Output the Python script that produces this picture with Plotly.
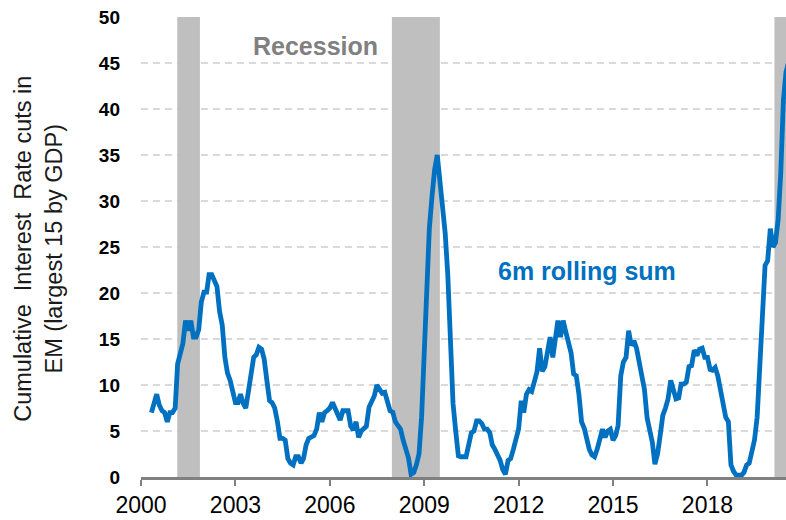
import pandas as pd
import plotly.graph_objects as go

# 6m rolling sum of EM rate cuts, monthly from May 2000
start_month = "2000-05-01"
rolling_sum = [
    7.0, 8.0, 9.0, 7.8, 7.2, 7.0, 6.0, 7.0, 7.0, 7.5,
    12.3, 13.4, 14.5, 17.0, 15.9, 17.0, 15.2, 15.2, 16.0, 19.0,
    20.1, 20.1, 22.0, 22.0, 21.3, 20.7, 18.0, 16.5, 13.0, 11.3,
    10.5, 9.2, 8.1, 8.1, 9.0, 8.0, 7.5, 9.3, 10.8, 13.0,
    13.3, 14.1, 13.9, 12.8, 10.5, 8.3, 8.1, 7.5, 6.1, 4.2,
    4.2, 4.0, 2.0, 1.5, 1.3, 2.2, 2.2, 1.5, 2.0, 3.5,
    4.2, 4.3, 4.5, 5.2, 7.0, 6.0, 7.0, 7.2, 7.5, 8.1,
    7.5, 7.0, 6.2, 7.2, 7.2, 7.2, 5.5, 5.1, 6.0, 4.3,
    5.0, 5.3, 5.5, 7.6, 8.2, 8.8, 10.0, 9.5, 9.1, 9.2,
    8.0, 7.2, 7.05, 6.0, 5.6, 5.2, 4.0, 2.9, 2.1, 0.3,
    0.5, 1.3, 2.5, 6.5, 13.0, 19.0, 27.0, 30.5, 33.4, 35.0,
    32.2, 29.9, 26.5, 22.0, 15.0, 8.0, 5.0, 2.3, 2.2,
    2.2, 2.2, 3.5, 4.8, 5.0, 6.1, 6.1,
    5.8, 5.2, 5.2, 4.8, 3.5, 3.0, 2.4, 1.8, 0.8, 0.3,
    1.8, 2.0, 3.0, 4.4, 5.2, 8.3, 7.0, 9.0, 9.5, 9.3,
    10.2, 11.4, 14.0, 11.5, 12.0, 13.5, 15.2, 13.0, 15.0, 17.0,
    15.2, 17.0, 15.8, 14.8, 13.5, 11.2, 11.0, 9.0, 6.0, 5.3,
    4.2, 3.0, 2.4, 2.2, 3.0, 4.3, 5.2, 4.3, 5.0, 5.2,
    4.0, 4.5, 5.6, 11.0, 12.5, 13.0, 15.9, 14.3, 14.8, 14.0,
    12.3, 11.2, 9.5, 6.4, 5.2, 3.8, 1.4, 2.5, 4.5, 6.7,
    7.5, 8.5, 10.5, 9.5, 8.5, 8.6, 10.1, 10.1, 10.3, 12.0,
    12.1, 13.8, 13.2, 13.9, 14.0, 13.0, 13.0, 11.7, 11.6, 11.9,
    11.0, 9.5, 8.0, 6.5, 6.0, 1.3, 0.6, 0.2, 0.2, 0.2,
    0.5, 1.3, 1.5, 2.7, 4.0, 6.5, 12.0, 18.0, 23.0, 23.5,
    27.0, 25.0, 25.5, 28.0, 33.0, 41.0, 44.0, 45.1,
]

# recession periods (shaded)
rec_start = ["2001-02-25", "2007-12-22", "2020-02-18"]
rec_end = ["2001-11-15", "2009-07-01", "2020-07-01"]

x_start = "2000-01-01"
x_end = "2020-07-01"
tick_years = ["2000", "2003", "2006", "2009", "2012", "2015", "2018"]

FONT = "Arial, Liberation Sans, sans-serif"
BLUE = "#0070C0"

dates = pd.date_range(start=start_month, periods=len(rolling_sum), freq="MS")

fig = go.Figure()
fig.add_scatter(x=dates, y=rolling_sum, mode="lines",
                line=dict(color=BLUE, width=4.8), showlegend=False)

for s, e in zip(rec_start, rec_end):
    fig.add_shape(type="rect", xref="x", yref="y", x0=s, x1=e, y0=0, y1=50,
                  fillcolor="#BFBFBF", line_width=0, layer="between")

fig.add_annotation(x="2005-07-20", y=46.8, text="<b>Recession</b>", showarrow=False,
                   font=dict(family=FONT, size=25, color="#808080"))
fig.add_annotation(x="2014-03-01", y=22.4, text="<b>6m rolling sum</b>", showarrow=False,
                   font=dict(family=FONT, size=25, color=BLUE))
fig.add_annotation(xref="paper", yref="paper", x=(38.5 - 141) / 645, y=0.495,
                   text="Cumulative&nbsp;&nbsp;Interest&nbsp;&nbsp;Rate cuts in<br>EM (largest 15 by GDP)",
                   textangle=-90, showarrow=False, xanchor="center", yanchor="middle",
                   font=dict(family=FONT, size=23.5, color="#1a1a1a"))

fig.update_layout(
    width=786, height=520,
    margin=dict(l=141, r=0, t=17, b=43),
    plot_bgcolor="white", paper_bgcolor="white",
    font=dict(family=FONT),
)
fig.update_xaxes(
    type="date", range=[x_start, x_end],
    tickvals=[y + "-01-01" for y in tick_years], ticktext=tick_years,
    showgrid=False, showline=True, linecolor="#808080", linewidth=2.5,
    ticks="outside", ticklen=6, tickwidth=2, tickcolor="#808080",
    tickfont=dict(family=FONT, size=23, color="black"),
)
fig.update_yaxes(
    range=[0, 50], dtick=5, showgrid=True, gridcolor="#D9D9D9", gridwidth=1.5,
    griddash="7px,5px", zeroline=False, showline=False,
    ticklabelstandoff=20,
    tickfont=dict(family=FONT, size=19, color="black", weight="bold"),
)

# page body has a default 8px margin; remove it so the figure fills the window
fig.write_html("out.html", config={"displayModeBar": False},
               post_script="document.body.style.margin='0px';")
